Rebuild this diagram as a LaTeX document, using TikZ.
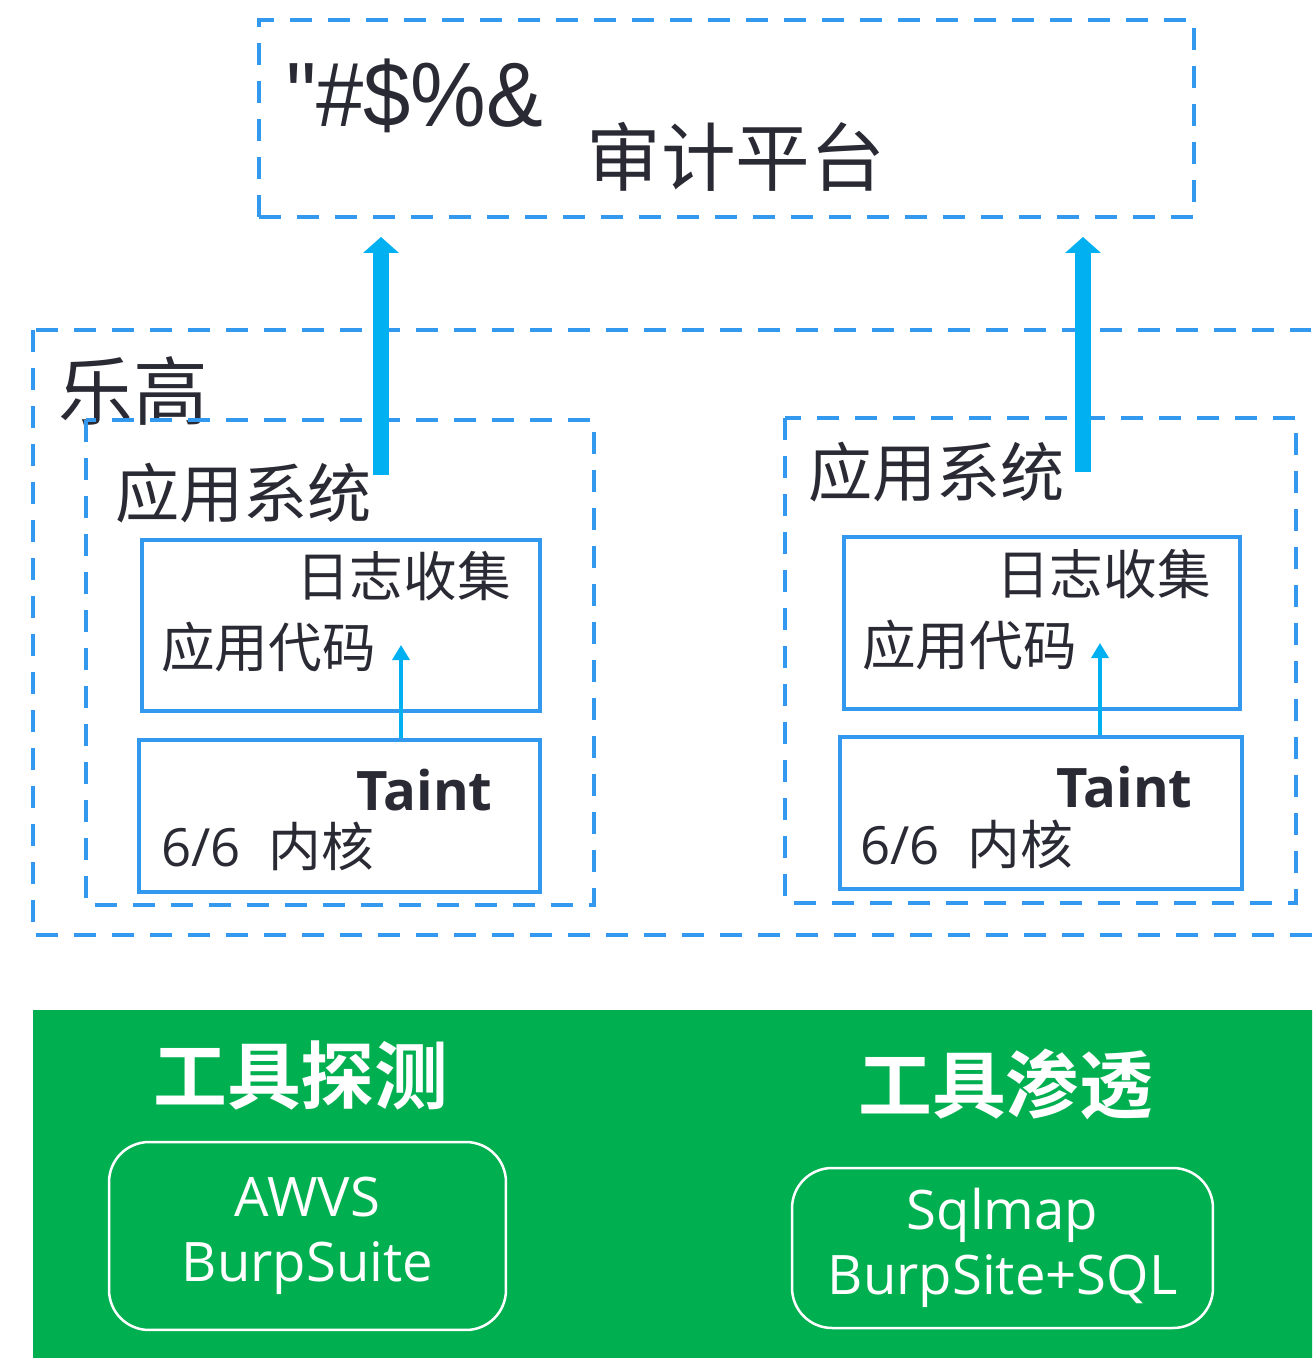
\documentclass[tikz,border=0pt]{standalone}
\usepackage{fontspec}
\setmainfont{Open Sans}
\newfontfamily\cjk{Noto Sans CJK SC}[BoldFont={Noto Sans CJK SC Bold}]
\newfontfamily\narrowfont{Liberation Sans}[FakeStretch=0.93]
\usetikzlibrary{arrows.meta}
\definecolor{boxblue}{RGB}{51,153,238}
\definecolor{arrowblue}{RGB}{0,176,240}
\definecolor{toolgreen}{RGB}{0,176,80}
\definecolor{inkgray}{RGB}{42,42,52}
\tikzset{
  dashbox/.style={draw=boxblue, line width=0.08cm, dash pattern=on 0.44cm off 0.32cm},
  codebox/.style={draw=boxblue, line width=0.08cm, inner sep=0},
  label/.style={inner sep=0, anchor=west, text=inkgray},
  toolbox/.style={draw=white, line width=0.05cm, rounded corners=0.8cm, text=white, align=center,
    font=\fontsize{31}{37}\selectfont},
  bigarrow/.style={draw=arrowblue, line width=0.32cm, -{Triangle[width=0.7cm,length=0.32cm]}},
  tinyarrow/.style={draw=arrowblue, line width=0.07cm, -{Triangle[width=0.34cm,length=0.3cm]}}
}
\begin{document}
\begin{tikzpicture}[x=0.02cm, y=-0.02cm]
\clip (0,0) rectangle (1312,1358);

% platform
\node[dashbox, minimum width=18.7cm, minimum height=3.94cm] (Audit) at (726.5,118.5) {};
\node[label, font=\narrowfont\fontsize{52}{60}\selectfont] (Marks) at (286,96) {"\#\$\%\&};
\node[label, font=\cjk\fontsize{42.5}{50}\selectfont] (Audit Title) at (586,157) {审计平台};

% lego
\draw[dashbox] (33,330) rectangle (1340,935);
\node[label, font=\cjk\fontsize{42.5}{50}\selectfont] (Lego) at (58,391) {乐高};

\draw[dashbox] (86,420) rectangle (594,905);
\node[label, font=\cjk\fontsize{36.5}{42}\selectfont] (App 1) at (115,493) {应用系统};
\node[codebox, minimum width=7.96cm, minimum height=3.42cm] (Log 1) at (341,625.5) {};
\node[label, font=\cjk\fontsize{30.5}{36}\selectfont] at (296,576) {日志收集};
\node[label, font=\cjk\fontsize{30.5}{36}\selectfont] at (161,647) {应用代码};
\node[codebox, minimum width=8.02cm, minimum height=3.04cm] (Kernel 1) at (339.5,816) {};
\node[label, font=\bfseries\fontsize{31}{36}\selectfont] at (356,790) {Taint};
\node[label, font=\fontsize{30}{35}\selectfont] at (161,846) {6/6\ \ {\cjk 内核}};

\draw[dashbox] (785,418) rectangle (1296,903);
\node[label, font=\cjk\fontsize{36.5}{42}\selectfont] (App 2) at (808,472) {应用系统};
\node[codebox, minimum width=7.92cm, minimum height=3.44cm] (Log 2) at (1042,623) {};
\node[label, font=\cjk\fontsize{30.5}{36}\selectfont] at (996,574) {日志收集};
\node[label, font=\cjk\fontsize{30.5}{36}\selectfont] at (862,645) {应用代码};
\node[codebox, minimum width=8.04cm, minimum height=3.04cm] (Kernel 2) at (1041,813) {};
\node[label, font=\bfseries\fontsize{31}{36}\selectfont] at (1056,787) {Taint};
\node[label, font=\fontsize{30}{35}\selectfont] at (860,844) {6/6\ \ {\cjk 内核}};

\coordinate (Tap 1) at (401,645);
\coordinate (Tap 2) at (1100,643);
\draw[tinyarrow] (Tap 1 |- Kernel 1.north) -- (Tap 1);
\draw[tinyarrow] (Tap 2 |- Kernel 2.north) -- (Tap 2);

\coordinate (Lift 1) at (381,475);
\coordinate (Lift 2) at (1083,472);
\draw[bigarrow, shorten >=0.36cm] (Lift 1) -- (Lift 1 |- Audit.south);
\draw[bigarrow, shorten >=0.36cm] (Lift 2) -- (Lift 2 |- Audit.south);

% tools
\fill[toolgreen] (33,1010) rectangle (1340,1370);
\node[label, text=white, font=\cjk\bfseries\fontsize{42}{48}\selectfont] (Probe) at (153,1075) {工具探测};
\node[label, text=white, font=\cjk\bfseries\fontsize{42}{48}\selectfont] (Pentest) at (858,1084) {工具渗透};
\node[toolbox, minimum width=7.94cm, minimum height=3.76cm] (Scan Tools) at (307.5,1236) {AWVS\\BurpSuite};
\node[toolbox, minimum width=8.42cm, minimum height=3.2cm] (Inject Tools) at (1002.5,1248) {Sqlmap\\BurpSite+SQL};

\end{tikzpicture}
\end{document}
